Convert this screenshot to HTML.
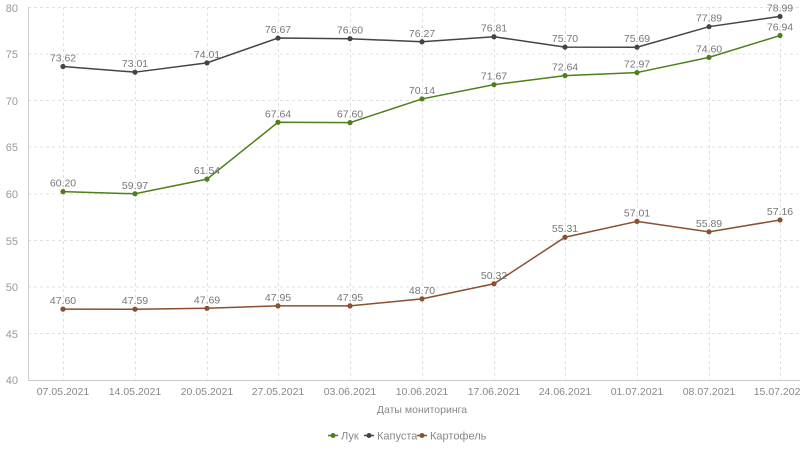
<!DOCTYPE html>
<html><head><meta charset="utf-8"><style>body{margin:0;background:#fff}svg{display:block;font-family:"Liberation Sans",sans-serif}</style></head><body>
<svg width="800" height="450" viewBox="0 0 800 450">
<g stroke="#e0e0e0" stroke-dasharray="3,3" stroke-width="1">
<line x1="28" x2="800" y1="7.5" y2="7.5"/><line x1="28" x2="800" y1="54" y2="54"/><line x1="28" x2="800" y1="100.5" y2="100.5"/><line x1="28" x2="800" y1="147" y2="147"/><line x1="28" x2="800" y1="194" y2="194"/><line x1="28" x2="800" y1="240.5" y2="240.5"/><line x1="28" x2="800" y1="287" y2="287"/><line x1="28" x2="800" y1="333.5" y2="333.5"/>
<line x1="63.5" x2="63.5" y1="7" y2="380"/><line x1="135.5" x2="135.5" y1="7" y2="380"/><line x1="207.5" x2="207.5" y1="7" y2="380"/><line x1="278.5" x2="278.5" y1="7" y2="380"/><line x1="350.5" x2="350.5" y1="7" y2="380"/><line x1="422.5" x2="422.5" y1="7" y2="380"/><line x1="494.5" x2="494.5" y1="7" y2="380"/><line x1="565.5" x2="565.5" y1="7" y2="380"/><line x1="637.5" x2="637.5" y1="7" y2="380"/><line x1="709.5" x2="709.5" y1="7" y2="380"/><line x1="780.5" x2="780.5" y1="7" y2="380"/>
</g>
<line x1="28" x2="800" y1="380.5" y2="380.5" stroke="#ccc"/>
<line x1="28.5" x2="28.5" y1="7" y2="381" stroke="#ccc"/>
<g fill="#999" font-size="11" text-anchor="end">
<text x="18" y="12">80</text><text x="18" y="58">75</text><text x="18" y="105">70</text><text x="18" y="151">65</text><text x="18" y="198">60</text><text x="18" y="245">55</text><text x="18" y="291">50</text><text x="18" y="338">45</text><text x="18" y="384">40</text>
</g>
<g fill="#888" font-size="10.5" text-anchor="middle">
<text x="63" y="395">07.05.2021</text><text x="135" y="395">14.05.2021</text><text x="207" y="395">20.05.2021</text><text x="278" y="395">27.05.2021</text><text x="350" y="395">03.06.2021</text><text x="422" y="395">10.06.2021</text><text x="494" y="395">17.06.2021</text><text x="565" y="395">24.06.2021</text><text x="637" y="395">01.07.2021</text><text x="709" y="395">08.07.2021</text><text x="780" y="395">15.07.2021</text>
<text x="422" y="413" fill="#888">Даты мониторинга</text>
</g>
<g id="s"></g>
<g font-size="11" fill="#888">
<line x1="328" x2="338" y1="435.5" y2="435.5" stroke="#4f7f1a" stroke-width="1.5"/><circle cx="333" cy="435.5" r="2.5" fill="#4f7f1a"/><text x="341" y="439.5">Лук</text>
<line x1="364" x2="374" y1="435.5" y2="435.5" stroke="#444" stroke-width="1.5"/><circle cx="369" cy="435.5" r="2.5" fill="#444"/><text x="377" y="439.5">Капуста</text>
<line x1="417" x2="427" y1="435.5" y2="435.5" stroke="#8a5030" stroke-width="1.5"/><circle cx="422" cy="435.5" r="2.5" fill="#8a5030"/><text x="430" y="439.5">Картофель</text>
</g>
</svg>
<script>
const xs=[63,135,207,278,350,422,494,565,637,709,780];
const Y=v=>7+(80-v)*9.325;
const S=[["#444",[73.62,73.01,74.01,76.67,76.60,76.27,76.81,75.70,75.69,77.89,78.99]],
["#4f7f1a",[60.20,59.97,61.54,67.64,67.60,70.14,71.67,72.64,72.97,74.60,76.94]],
["#8a5030",[47.60,47.59,47.69,47.95,47.95,48.70,50.32,55.31,57.01,55.89,57.16]]];
let h="";
for(const [c,d] of S){
h+=`<polyline fill="none" stroke="${c}" stroke-width="1.5" points="${d.map((v,i)=>xs[i]+','+Y(v)).join(' ')}"/>`;
d.forEach((v,i)=>{h+=`<circle cx="${xs[i]}" cy="${Y(v)}" r="2.6" fill="${c}"/><text x="${xs[i]}" y="${Y(v)-5}" font-size="10.5" fill="#777" text-anchor="middle">${v.toFixed(2)}</text>`;});
}
document.getElementById("s").innerHTML=h;
</script>
</body></html>
